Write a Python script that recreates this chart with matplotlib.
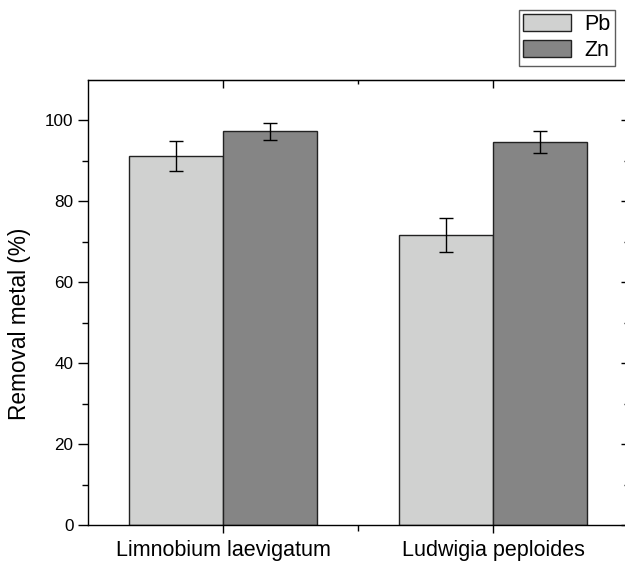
import matplotlib
matplotlib.use("Agg")
import matplotlib.pyplot as plt
import numpy as np

plt.rcParams['font.family'] = ['Liberation Sans', 'DejaVu Sans']

categories = ["Limnobium laevigatum", "Ludwigia peploides"]
series = ["Pb", "Zn"]
pb_values = [91.2, 71.7]
zn_values = [97.3, 94.6]
pb_err = [3.6, 4.3]
zn_err = [2.1, 2.7]
colors = ["#d0d1d0", "#858585"]

fig = plt.figure(figsize=(6.25, 5.61), dpi=100)
ax = fig.add_axes([0.1408, 0.0642, 0.864, 0.7932])

x = np.arange(1, len(categories) + 1)
w = 0.35
ekw = dict(elinewidth=1.0, capthick=1.0, ecolor='black')
ax.bar(x - w / 2, pb_values, w, yerr=pb_err, color=colors[0], edgecolor='#222222',
       linewidth=1.0, capsize=5, error_kw=ekw, label=series[0])
ax.bar(x + w / 2, zn_values, w, yerr=zn_err, color=colors[1], edgecolor='#222222',
       linewidth=1.0, capsize=5, error_kw=ekw, label=series[1])

ax.set_xlim(0.5, 2.5)
ax.set_ylim(0, 110)
ax.set_yticks([0, 20, 40, 60, 80, 100])
ax.set_yticks([10, 30, 50, 70, 90], minor=True)
ax.set_xticks(x)
ax.set_xticks([1.5], minor=True)
ax.set_xticklabels(categories, fontsize=15.5)
ax.tick_params(axis='y', labelsize=12.3)
ax.tick_params(axis='y', which='major', direction='out', length=7, width=1.0)
ax.tick_params(axis='y', which='minor', direction='out', length=4, width=1.0)
ax.tick_params(axis='x', which='major', direction='out', length=6, width=1.0, pad=4.5)
ax.tick_params(axis='x', which='minor', direction='out', length=4, width=1.0)
ax.set_ylabel("Removal metal (%)", fontsize=16.3)
ax.yaxis.set_label_coords(-0.106, 0.453, transform=ax.transAxes)
for s in ax.spines.values():
    s.set_linewidth(1.0)

sec_y = ax.secondary_yaxis('right')
sec_y.set_yticks([0, 20, 40, 60, 80, 100])
sec_y.set_yticks([10, 30, 50, 70, 90], minor=True)
sec_y.tick_params(which='major', direction='in', length=5, width=1.0, labelright=False)
sec_y.tick_params(which='minor', direction='in', length=3, width=1.0)

sec_x = ax.secondary_xaxis('top')
sec_x.set_xticks(x)
sec_x.set_xticks([1.5], minor=True)
sec_x.tick_params(which='major', direction='in', length=6, width=1.0, labeltop=False)
sec_x.tick_params(which='minor', direction='in', length=3, width=1.0)

leg = fig.legend(loc='upper left', bbox_to_anchor=(0.830, 0.983), fontsize=15.5,
                 frameon=True, fancybox=False, edgecolor='#333333',
                 handlelength=2.23, handleheight=0.84, handletextpad=0.6,
                 labelspacing=0.25, borderpad=0.2, borderaxespad=0)
leg.get_frame().set_linewidth(1.0)

fig.savefig("out.png", dpi=100)
